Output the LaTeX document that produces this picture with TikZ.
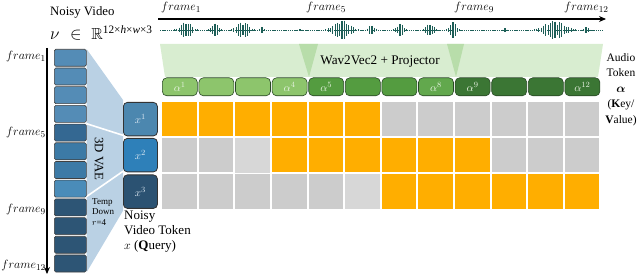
\documentclass[tikz,border=0pt]{standalone}
\usepackage{amssymb}
\usepackage{amsmath}
\usepackage{fontspec}
\setmainfont{Liberation Serif}
\usetikzlibrary{arrows.meta,backgrounds}
\definecolor{orng}{RGB}{255,174,0}
\definecolor{gry}{RGB}{204,204,204}
\definecolor{gryl}{RGB}{215,215,215}
\definecolor{gl}{RGB}{141,197,108}
\definecolor{gm}{RGB}{84,156,64}
\definecolor{gmt}{RGB}{98,168,77}
\definecolor{gd}{RGB}{59,118,52}
\definecolor{gborder}{RGB}{40,72,36}
\definecolor{bandc}{RGB}{216,237,208}
\definecolor{tric}{RGB}{184,221,170}
\definecolor{bA}{RGB}{84,140,182}
\definecolor{bAd}{RGB}{52,104,146}
\definecolor{bB}{RGB}{60,122,166}
\definecolor{bBl}{RGB}{74,140,185}
\definecolor{bC}{RGB}{45,85,117}
\definecolor{xa}{RGB}{76,135,175}
\definecolor{xb}{RGB}{46,128,185}
\definecolor{xc}{RGB}{43,82,114}
\definecolor{funnelc}{RGB}{186,209,228}
\definecolor{wavec}{RGB}{29,94,87}
\definecolor{tokfg}{RGB}{232,243,226}
\definecolor{xfg}{RGB}{220,232,242}
\tikzset{
  cell/.style={minimum width=34.6, minimum height=34.4, inner sep=0pt, anchor=north west},
  atok/.style={minimum width=35, minimum height=18, inner sep=0pt, anchor=north west,
     rounded corners=4.5, draw=gborder, line width=0.6pt, text=tokfg,
     font=\fontsize{11}{12}\selectfont},
  fbox/.style={minimum width=32, minimum height=17, inner sep=0pt, anchor=north west,
     rounded corners=1.5, draw=black!75, line width=0.6pt},
  xtok/.style={minimum width=34, minimum height=33.5, inner sep=0pt, anchor=north west,
     rounded corners=4, draw=black!80, line width=0.8pt, text=xfg,
     font=\fontsize{11}{12}\selectfont},
  flab/.style={inner sep=0pt, font=\fontsize{12.5}{14}\selectfont},
  txt/.style={inner sep=0pt, font=\fontsize{12.8}{15}\selectfont},
}
\begin{document}
\begin{tikzpicture}[x=1pt,y=-1pt]
\useasboundingbox (0,0) rectangle (640,275);

% ---------- top timeline ----------
\coordinate (ta) at (158,19);
\coordinate (tb) at (606,19);
\draw[line width=1.1pt, -{Stealth[length=7pt,width=6pt]}] (ta) -- (tb);
\node[flab, anchor=west] (tf1) at (161,8) {$frame_1$};
\node[flab, anchor=west] (tf5) at (306,8) {$frame_5$};
\node[flab, anchor=west] (tf9) at (454,8) {$frame_9$};
\node[flab, anchor=west] (tf12) at (564,8) {$frame_{12}$};

% ---------- waveform ----------
\draw[wavec, line width=0.6pt, dash pattern=on 1.4pt off 0.8pt] (160,30) -- (603,30);
\foreach \c/\w/\a in {186/12/8.5, 215/8/6.5, 243/13/8.5, 262/4/3, 300/3/1.5, 342/17/10,
                      372/7/5, 400/8/6.5, 430/9/6.5, 453/8/8, 505/3/1.8, 555/22/9.5, 586/5/3}{
  \pgfmathtruncatemacro\n{\w/2.3}
  \foreach \k in {-\n,...,\n}{
    \pgfmathsetmacro\xx{\c+\k*2.3}
    \pgfmathsetmacro\tt{\k*2.3/(0.6*\w)}
    \pgfmathsetmacro\h{\a*exp(-\tt*\tt)*(0.55+0.45*abs(sin(\k*131+\c*3)))}
    \draw[wavec, line width=1.1pt] (\xx,30-\h) -- (\xx,30+\h);
  }
}

% ---------- Wav2Vec2 band ----------
\fill[bandc] (160,44) -- (603,44) -- (598,77) -- (165,77) -- cycle;
\fill[tric] (299,44) -- (318,44) -- (309,77) -- cycle;
\fill[tric] (447,44) -- (464,44) -- (456,77) -- cycle;
\node[txt, font=\fontsize{13.2}{15}\selectfont] (w2v) at (380,62) {Wav2Vec2 + Projector};

% ---------- audio tokens ----------
\foreach \i/\col/\lab in {1/gl/{$\alpha^{1}$},2/gl/{},3/gl/{},4/gl/{$\alpha^{4}$},
                          5/gm/{$\alpha^{5}$},6/gm/{},7/gm/{},8/gmt/{$\alpha^{8}$},
                          9/gd/{$\alpha^{9}$},10/gd/{},11/gd/{},12/gd/{$\alpha^{12}$}}{
  \node[atok, fill=\col] (a\i) at ({162+(\i-1)*36.6},77.5) {\lab};
}

% ---------- attention grid ----------
\foreach \r/\first/\last in {1/1/6, 2/4/9, 3/7/12}{
  \foreach \i in {1,...,12}{
    \pgfmathtruncatemacro\ison{(\i>=\first)&&(\i<=\last)}
    \ifnum\ison=1
      \node[cell, fill=orng] (c\r-\i) at ({162+(\i-1)*36.6},{101.5+(\r-1)*36.4}) {};
    \else
      \node[cell, fill=gry] (c\r-\i) at ({162+(\i-1)*36.6},{101.5+(\r-1)*36.4}) {};
    \fi
  }
}
\fill[gryl] (c2-3.north west) rectangle (c2-3.south east);
\fill[gryl] (c3-6.north west) rectangle (c3-6.south east);

% ---------- right labels ----------
\node[txt, font=\fontsize{11.5}{15.5}\selectfont, align=center, anchor=north] (alab) at (621,53)
  {Audio\\Token\\$\boldsymbol{\alpha}$\\(\textbf{K}ey/\\\textbf{V}alue)};

% ---------- left: video ----------
\node[txt, anchor=west] (nv) at (50,12) {Noisy Video};
\node[inner sep=0pt, anchor=west] (nvr) at (50,33)
  {\fontsize{16}{18}\selectfont$\nu\mkern6mu\in\mkern5mu\mathbb{R}$\raisebox{6pt}{\fontsize{11.3}{13}\selectfont 12×\textit{h}×\textit{w}×3}};

\foreach \k/\col in {1/bA,2/bA,3/bA,4/bA,5/bAd,6/bB,7/bB,8/bBl,9/bC,10/bC,11/bC,12/bC}{
  \node[fbox, fill=\col] (f\k) at (54,{49+(\k-1)*18.7}) {};
}

% x tokens
\node[xtok, fill=xa] (x1) at (123,102) {$x^{1}$};
\node[xtok, fill=xb] (x2) at (123,138) {$x^{2}$};
\node[xtok, fill=xc] (x3) at (123,174.5) {$x^{3}$};

% funnel (behind)
\begin{scope}[on background layer]
\fill[funnelc] (f1.north east) -- ([yshift=2pt]x1.north west) -- ([yshift=-2pt]x3.south west) -- (f12.south east) -- cycle;
\draw[white, line width=1.6pt] ([yshift=-1pt]f4.south east) -- ([yshift=1pt]x1.south west);
\draw[white, line width=1.6pt] ([yshift=1pt]f8.south east) -- ([yshift=1pt]x2.south west);
\end{scope}

% vertical arrow
\coordinate (va) at (47,48);
\coordinate (vb) at (47,274);
\draw[line width=1.3pt, -{Stealth[length=7pt,width=6pt]}] (va) -- (vb);
\node[flab, anchor=east] (lf1) at (46,57) {$frame_1$};
\node[flab, anchor=east] (lf5) at (46,133) {$frame_5$};
\node[flab, anchor=east] (lf9) at (46,210) {$frame_9$};
\node[flab, anchor=east] (lf12) at (46,266) {$frame_{12}$};

% VAE labels
\node[txt, rotate=-90] (vae) at (99,159) {3D VAE};
\node[inner sep=0pt, font=\fontsize{9}{10.5}\selectfont, align=left, anchor=north west] (td) at (92,198)
  {Temp\\Down\\$r$=4};

% query label
\node[txt, font=\fontsize{13}{15}\selectfont, align=left, anchor=north west] (ql) at (124,211)
  {Noisy\\Video Token\\$x$ (\textbf{Q}uery)};
\end{tikzpicture}
\end{document}
